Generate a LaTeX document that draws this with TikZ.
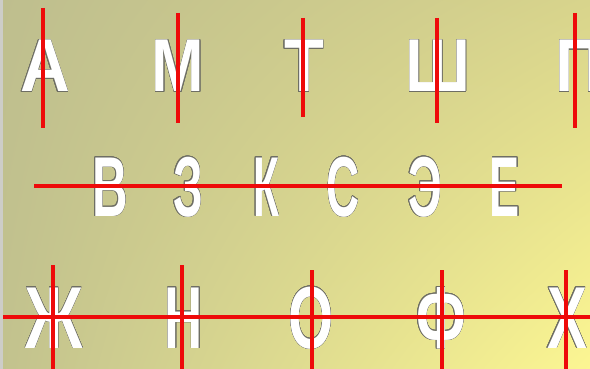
\documentclass[tikz,border=0pt]{standalone}
\usepackage{fontspec}
\usepackage{contour}
\usetikzlibrary{shadings}
\newfontfamily\letterfont{Liberation Sans}
\contourlength{0.5pt}
\definecolor{bgUL}{RGB}{190,190,142}
\definecolor{bgUR}{RGB}{216,212,140}
\definecolor{bgLL}{RGB}{194,194,142}
\definecolor{bgLR}{RGB}{252,246,146}
\definecolor{edge}{RGB}{205,205,200}
\definecolor{axisred}{RGB}{238,10,10}
\definecolor{rim}{RGB}{110,110,100}

\tikzset{
  letter/.style={text=white, inner sep=0pt, anchor=base, font=\letterfont\bfseries},
  symaxis/.style={draw=axisred, line width=4.5pt}
}
% one outlined letter, squeezed sideways
\newcommand{\glyph}[2]{\scalebox{#1}[1]{\contour{rim}{#2}}}

\begin{document}
\begin{tikzpicture}[x=1pt, y=-1pt]
        \useasboundingbox (0,0) rectangle (590,369);
        % фон
        \shade[upper left=bgUL, upper right=bgUR, lower left=bgLL, lower right=bgLR]
            (0,0) rectangle (590,369);
        \fill[edge] (0,0) rectangle (3,369);

        % первый ряд: вертикальная ось
        \node[letter, font=\letterfont\bfseries\fontsize{75}{75}\selectfont] (lA) at (45,92) {\glyph{0.92}{А}};
        \node[letter, font=\letterfont\bfseries\fontsize{75}{75}\selectfont] (lM) at (178,92) {\glyph{0.84}{М}};
        \node[letter, font=\letterfont\bfseries\fontsize{75}{75}\selectfont] (lT) at (304,92) {\glyph{0.87}{Т}};
        \node[letter, font=\letterfont\bfseries\fontsize{75}{75}\selectfont] (lSh) at (438,92) {\glyph{0.86}{Ш}};
        \node[letter, font=\letterfont\bfseries\fontsize{75}{75}\selectfont] (lP) at (579,92) {\glyph{0.87}{П}};

        \draw[symaxis] (43,8) -- (43,128);
        \draw[symaxis] (178,13) -- (178,123);
        \draw[symaxis] (303,18) -- (303,117);
        \draw[symaxis] (437,18) -- (437,123);
        \draw[symaxis] (575,13) -- (575,128);

        % второй ряд: горизонтальная ось
        \node[letter, font=\letterfont\bfseries\fontsize{85}{85}\selectfont] (lV) at (110,216) {\glyph{0.58}{В}};
        \node[letter, font=\letterfont\bfseries\fontsize{85}{85}\selectfont] (lZ) at (188,216) {\glyph{0.56}{З}};
        \node[letter, font=\letterfont\bfseries\fontsize{85}{85}\selectfont] (lK) at (266,216) {\glyph{0.50}{К}};
        \node[letter, font=\letterfont\bfseries\fontsize{85}{85}\selectfont] (lS) at (343,216) {\glyph{0.54}{С}};
        \node[letter, font=\letterfont\bfseries\fontsize{85}{85}\selectfont] (lE) at (425,216) {\glyph{0.56}{Э}};
        \node[letter, font=\letterfont\bfseries\fontsize{85}{85}\selectfont] (lJe) at (505,216) {\glyph{0.53}{Е}};

        \draw[symaxis] (34,186) -- (562,186);

        % третий ряд: две оси
        \node[letter, font=\letterfont\bfseries\fontsize{88}{88}\selectfont] (lZh) at (54,348) {\glyph{0.72}{Ж}};
        \node[letter, font=\letterfont\bfseries\fontsize{88}{88}\selectfont] (lN) at (184,348) {\glyph{0.60}{Н}};
        \node[letter, font=\letterfont\bfseries\fontsize{88}{88}\selectfont] (lO) at (311,348) {\glyph{0.66}{О}};
        \node[letter, font=\letterfont\bfseries\fontsize{88}{88}\selectfont] (lF) at (441,348) {\glyph{0.66}{Ф}};
        \node[letter, font=\letterfont\bfseries\fontsize{88}{88}\selectfont] (lH) at (567,348) {\glyph{0.68}{Х}};

        \draw[symaxis] (3,317) -- (590,317);
        \draw[symaxis] (53,265) -- (53,369);
        \draw[symaxis] (182,265) -- (182,369);
        \draw[symaxis] (312,270) -- (312,369);
        \draw[symaxis] (442,270) -- (442,369);
        \draw[symaxis] (566,270) -- (566,369);
\end{tikzpicture}
\end{document}
